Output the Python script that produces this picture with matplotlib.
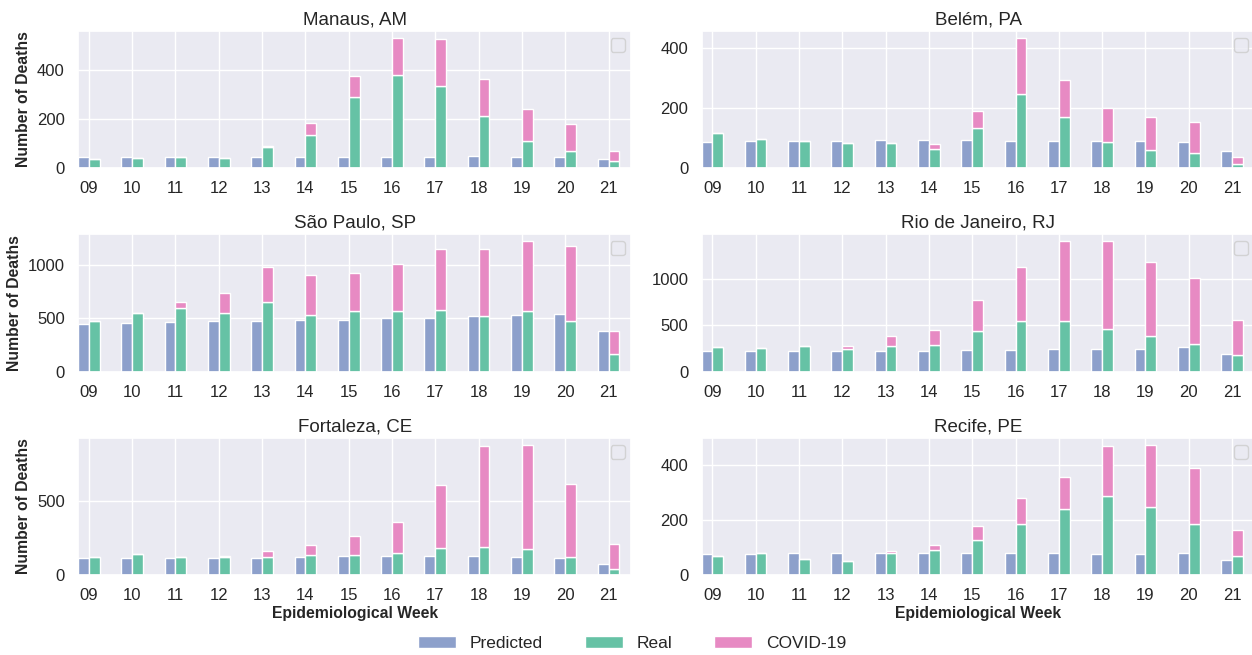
import numpy as np
import matplotlib
matplotlib.use("Agg")
import matplotlib.pyplot as plt
import seaborn as sns
from matplotlib.patches import Patch
from matplotlib.ticker import MultipleLocator

sns.set_theme(style="darkgrid")
plt.rcParams['font.family'] = ['Liberation Sans', 'DejaVu Sans']

weeks = ["09", "10", "11", "12", "13", "14", "15", "16", "17", "18", "19", "20", "21"]
cities = ["Manaus, AM", "Belém, PA", "São Paulo, SP", "Rio de Janeiro, RJ", "Fortaleza, CE", "Recife, PE"]

# predicted deaths, registered deaths, and registered deaths with COVID-19 on top
manaus_pred = [45, 46, 45, 47, 45, 45, 45, 45, 47, 50, 47, 46, 35]
manaus_real = [37, 39, 44, 39, 84, 133, 290, 381, 337, 212, 109, 71, 30]
manaus_total = [37, 39, 44, 39, 91, 184, 374, 533, 528, 365, 243, 180, 69]

belem_pred = [87, 89, 89, 91, 92, 93, 93, 91, 91, 91, 91, 86, 58]
belem_real = [118, 98, 89, 84, 82, 64, 133, 246, 170, 88, 59, 51, 12]
belem_total = [118, 98, 89, 84, 82, 79, 191, 436, 294, 201, 170, 153, 37]

sp_pred = [447, 453, 459, 472, 475, 481, 487, 497, 497, 516, 528, 534, 381]
sp_real = [475, 544, 594, 550, 647, 531, 569, 569, 578, 516, 569, 475, 162]
sp_total = [475, 544, 647, 737, 978, 906, 919, 1009, 1147, 1150, 1222, 1178, 375]

rj_pred = [224, 224, 227, 227, 227, 227, 231, 235, 245, 245, 249, 260, 188]
rj_real = [260, 253, 274, 242, 274, 289, 440, 549, 549, 462, 383, 303, 177]
rj_total = [260, 253, 274, 271, 379, 451, 773, 1134, 1412, 1412, 1184, 1007, 560]

fortaleza_pred = [115, 115, 115, 115, 118, 120, 127, 131, 131, 127, 120, 113, 77]
fortaleza_real = [120, 145, 120, 120, 120, 138, 138, 149, 181, 192, 176, 120, 41]
fortaleza_total = [120, 145, 120, 130, 161, 201, 265, 360, 613, 878, 885, 615, 213]

recife_pred = [76, 78, 80, 80, 80, 80, 81, 81, 81, 78, 78, 80, 55]
recife_real = [68, 80, 59, 50, 79, 92, 128, 187, 239, 288, 247, 187, 68]
recife_total = [68, 80, 59, 50, 86, 108, 178, 279, 358, 468, 475, 390, 165]

preds = [manaus_pred, belem_pred, sp_pred, rj_pred, fortaleza_pred, recife_pred]
reals = [manaus_real, belem_real, sp_real, rj_real, fortaleza_real, recife_real]
totals = [manaus_total, belem_total, sp_total, rj_total, fortaleza_total, recife_total]
steps = [200, 200, 500, 500, 500, 200]

c_pred = "#8da0cb"
c_real = "#66c2a5"
c_covid = "#e78ac3"
w = 0.25

fig, axes = plt.subplots(3, 2, figsize=(12.52, 6.55), dpi=100)
fig.subplots_adjust(left=0.0623, right=1.0024, top=0.9527, bottom=0.1221,
                    wspace=0.1265, hspace=0.485)

x = np.arange(len(weeks))
for i, ax in enumerate(axes.flat):
    pred = np.array(preds[i])
    real = np.array(reals[i])
    covid = np.array(totals[i]) - real
    ax.bar(x - w / 2, pred, w, color=c_pred, edgecolor="white", linewidth=1)
    ax.bar(x + w / 2, real, w, color=c_real, edgecolor="white", linewidth=1)
    ax.bar(x + w / 2, covid, w, bottom=real, color=c_covid, edgecolor="white", linewidth=1)
    ax.set_xticks(x)
    ax.set_xticklabels(weeks, fontsize=12)
    ax.tick_params(axis="y", labelsize=12)
    ax.yaxis.set_major_locator(MultipleLocator(steps[i]))
    ax.set_xlim(-0.25, 12.53)
    ax.set_title(cities[i], fontsize=13.5, pad=5)
    # empty legend box, as left by the original plotting code
    ax.legend(handles=[], loc="upper right", borderpad=0.5, fontsize=10)
    if i % 2 == 0:
        ax.set_ylabel("Number of Deaths", fontsize=11.3, fontweight="bold")
    if i >= 4:
        ax.set_xlabel("Epidemiological Week", fontsize=11.3, fontweight="bold", labelpad=2)

handles = [Patch(facecolor=c_pred, edgecolor="white", label="Predicted"),
           Patch(facecolor=c_real, edgecolor="white", label="Real"),
           Patch(facecolor=c_covid, edgecolor="white", label="COVID-19")]
fig.legend(handles=handles, loc="center", bbox_to_anchor=(0.505, 0.018), ncol=3,
           frameon=False, fontsize=12.5, columnspacing=2.4, handlelength=2.2)

fig.savefig("out.png", dpi=100)
